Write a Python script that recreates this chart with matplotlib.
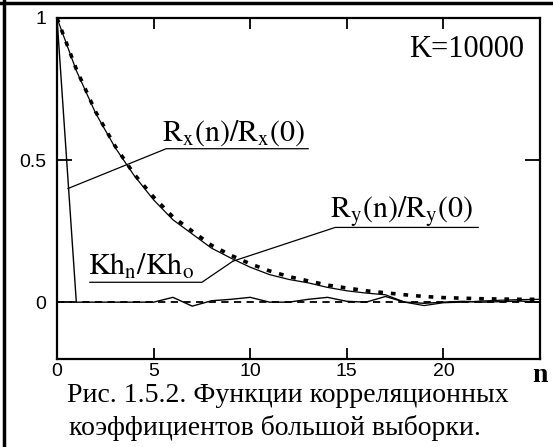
import numpy as np
import matplotlib.pyplot as plt
from matplotlib.lines import Line2D

plt.rcParams['mathtext.fontset'] = 'stix'

# lag index
n = np.arange(0, 26)

# Rx(n)/Rx(0): sample correlation of x (solid)
rx = [1.0, 0.0, 0.0, 0.0, 0.0, 0.0, 0.017, -0.014, 0.005, 0.01, 0.017, 0.0, 0.0,
      0.01, 0.017, 0.003, 0.0, 0.02, 0.0, -0.004, 0.0, 0.003, 0.0, 0.002, 0.004, 0.0]
# Ry(n)/Ry(0): thick dotted curve
ry = [1.0, 0.82, 0.67, 0.55, 0.45, 0.37, 0.30, 0.25, 0.20, 0.165, 0.135, 0.11, 0.09,
      0.075, 0.06, 0.05, 0.04, 0.033, 0.026, 0.02, 0.016, 0.014, 0.012, 0.011, 0.01, 0.01]
# Kh_n/Kh_0: thin solid curve
kh = [1.0, 0.815, 0.665, 0.545, 0.445, 0.36, 0.29, 0.24, 0.19, 0.155, 0.123, 0.097, 0.08,
      0.068, 0.052, 0.04, 0.032, 0.026, 0.0, -0.012, -0.002, 0.0, 0.004, 0.007, 0.009, 0.01]
# zero level (dashed)
zero = [0.0] * 26

fig = plt.figure(figsize=(5.53, 4.47), dpi=100)
ax = fig.add_axes([57 / 553, 1 - 359 / 447, (540 - 57) / 553, (359 - 18) / 447])

ax.plot(n, zero, color='black', lw=1.3, linestyle=(0, (4, 3)))
ax.plot(n, rx, color='black', lw=1.0)
ax.plot(n, kh, color='black', lw=0.9)
ax.plot(n, ry, color='black', lw=2.6, linestyle=(0, (1.3, 2.2)))

ax.set_xlim(0, 25)
ax.set_ylim(-0.2, 1.0)

ax.set_xticks([0, 5, 10, 15, 20])
ax.set_xticklabels(['0', '5', '10', '15', '20'], family='Liberation Sans')
ax.set_yticks([0, 0.5, 1])
ax.set_yticklabels(['0', '0.5', '1'], family='Liberation Sans')
ax.tick_params(axis='x', direction='in', length=8, width=1.3, top=True,
               labelsize=14, pad=3)
ax.tick_params(axis='y', direction='in', length=10.5, width=1.3, right=True,
               labelsize=14, pad=8)
for s in ax.spines.values():
    s.set_linewidth(1.6)

ax.text(1.0, -0.012, 'n', transform=ax.transAxes, ha='center', va='top',
        fontsize=20, fontweight='bold', family='Liberation Serif')

serif = dict(family='Liberation Serif', color='black')
ax.text(24.2, 0.89, 'K=10000', ha='right', va='center', fontsize=22, **serif)

# Rx label
ax.text(5.45, 0.57, r'$\mathrm{R_x(n)/R_x(0)}$', ha='left', va='baseline', fontsize=21.5)
ax.plot([0.57, 5.65, 13.0], [0.40, 0.54, 0.54], color='black', lw=0.9)

# Ry label
ax.text(14.15, 0.297, r'$\mathrm{R_y(n)/R_y(0)}$', ha='left', va='baseline', fontsize=21.5)
ax.plot([9.1, 14.4, 21.8], [0.144, 0.263, 0.263], color='black', lw=0.9)

# Kh label
ax.text(1.6, 0.098, r'$\mathrm{Kh_n/Kh_o}$', ha='left', va='baseline', fontsize=21.5)
ax.plot([1.7, 7.5, 9.1], [0.07, 0.07, 0.144], color='black', lw=0.9)

# caption
fig.text(288 / 553, 1 - 395 / 447, 'Рис. 1.5.2. Функции корреляционных',
         ha='center', va='center', fontsize=20, **serif)
fig.text(275 / 553, 1 - 428 / 447, 'коэффициентов большой выборки.',
         ha='center', va='center', fontsize=20, **serif)

# frame of the scanned figure
fig.add_artist(Line2D([0, 1], [1 - 3 / 447, 1 - 3 / 447], color='black', lw=2.5))
fig.add_artist(Line2D([4 / 553, 4 / 553], [0, 1], color='black', lw=2.5))

fig.savefig('out.png', dpi=100)
